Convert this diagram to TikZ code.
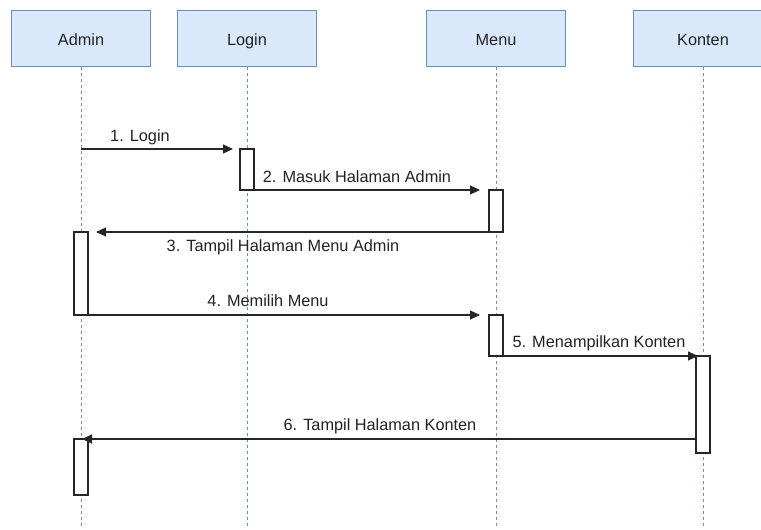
\documentclass[tikz,border=0pt]{standalone}
\usepackage{fontspec}
\setmainfont{Liberation Sans}
\usetikzlibrary{arrows.meta}
\definecolor{headfill}{HTML}{DAE8FC}
\definecolor{headline}{HTML}{6C8EBF}
\definecolor{txt}{HTML}{222222}
\begin{document}
\begin{tikzpicture}[x=1pt,y=-1pt,
  every node/.append style={font=\fontsize{16.3}{19}\selectfont, text=txt},
  head/.style={draw=headline, fill=headfill, line width=1pt, minimum width=139pt, minimum height=56pt, inner sep=0pt, text height=15.5pt, text depth=0pt},
  lifeline/.style={draw=headline, line width=1pt, dash pattern=on 3pt off 3pt},
  actbox/.style={draw=black!85, fill=white, line width=1.2pt, minimum width=14pt, inner sep=0pt, outer sep=0pt, anchor=north},
  msg/.style={draw=black!85, line width=1.2pt, -{Triangle[length=10pt,width=9pt]}},
  lbl/.style={anchor=base, inner sep=0pt}
]
\useasboundingbox (0,0) rectangle (761,530);
\clip (0,0) rectangle (761,530);
% headers
\node[head] (admin) at (81,38) {Admin};
\node[head] (login) at (247,38) {Login};
\node[head] (menu) at (496,38) {Menu};
\node[head] (konten) at (703,38) {Konten};
% lifeline ends
\coordinate (adminend) at (81,527);
\coordinate (loginend) at (247,527);
\coordinate (menuend) at (496,527);
\coordinate (kontenend) at (703,527);
\draw[lifeline] (admin.south) -- (adminend);
\draw[lifeline] (login.south) -- (loginend);
\draw[lifeline] (menu.south) -- (menuend);
\draw[lifeline] (konten.south) -- (kontenend);
% activations
\node[actbox, minimum height=41pt] (lact) at (247,149) {};
\node[actbox, minimum height=42pt] (mact1) at (496,190) {};
\node[actbox, minimum height=83pt] (aact1) at (81,232) {};
\node[actbox, minimum height=41pt] (mact2) at (496,315) {};
\node[actbox, minimum height=97pt] (kact) at (703,356) {};
\node[actbox, minimum height=56pt] (aact2) at (81,439) {};
% messages
\coordinate (m1s) at (81,149);
\draw[msg, shorten >=7pt] (m1s) -- (lact.north west);
\draw[msg, shorten >=9pt] (lact.south east) -- (mact1.north west);
\draw[msg, shorten >=8pt] (mact1.south west) -- (aact1.north east);
\draw[msg, shorten >=9pt] (aact1.south east) -- (mact2.north west);
\draw[msg, shorten >=-2pt] (mact2.south east) -- (kact.north west);
\draw[msg, shorten >=1pt] (kact.west |- aact2.north) -- (aact2.north);
% labels
\node[lbl] (l1) at (140,141) {1. Login};
\node[lbl] (l2) at (357,182) {2. Masuk Halaman Admin};
\node[lbl] (l3) at (283,251) {3. Tampil Halaman Menu Admin};
\node[lbl] (l4) at (268,306) {4. Memilih Menu};
\node[lbl] (l5) at (599,347) {5. Menampilkan Konten};
\node[lbl] (l6) at (380,430) {6. Tampil Halaman Konten};
\end{tikzpicture}
\end{document}
